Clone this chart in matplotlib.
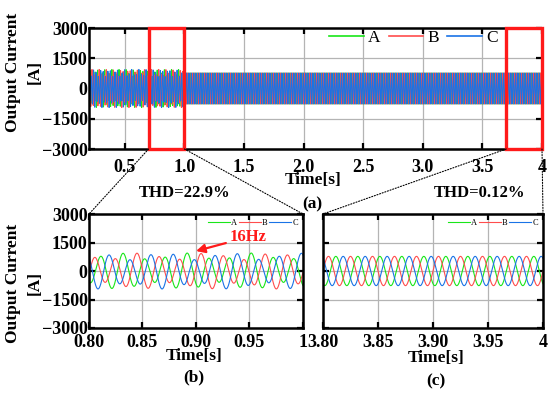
import numpy as np
import matplotlib
matplotlib.use("Agg")
import matplotlib.pyplot as plt
from matplotlib.patches import Rectangle, ConnectionPatch

# ---------------- data ----------------
phase_names = ["A", "B", "C"]
phase_colors = ["#19e619", "#ff4d4d", "#1a73e6"]
phase_shift_deg = [0, 120, -120]          # fundamental sequence offsets
inter_shift_deg = [0, -120, 120]          # 34 Hz component offsets
fund_freq = 50.0                          # Hz
fund_amp = 770.0                          # A
fund_phase_deg = 150.0
inter_freq = 34.0                         # Hz (beats at 16 Hz with the fundamental)
inter_amp = 176.0                         # A  (THD ~22.9 %)
beat_peak_time = 0.89                     # s, phase-A envelope maximum
disturb_end = 1.0                         # s, oscillation removed after this

t_start, t_end = 0.2, 4.0
zoom_b = (0.80, 1.0)
zoom_c = (3.80, 4.0)
rect_a = (0.7, 1.0)
rect_c = (3.7, 4.0)

yticks = [3000, 1500, 0, -1500, -3000]
yticklabels = ["3000", "1500", "0", "\u22121500", "\u22123000"]
xticks_a = [0.5, 1.0, 1.5, 2.0, 2.5, 3.0, 3.5, 4.0]
xticklabels_a = ["0.5", "1.0", "1.5", "2.0", "2.5", "3.0", "3.5", "4"]
xticks_b = [0.80, 0.85, 0.90, 0.95, 1.0]
xticklabels_b = ["0.80", "0.85", "0.90", "0.95", "1"]
xticks_c = [3.80, 3.85, 3.90, 3.95, 4.0]
xticklabels_c = ["3.80", "3.85", "3.90", "3.95", "4"]
thd_b = "THD=22.9%"
thd_c = "THD=0.12%"


def current(t, k):
    th1 = np.deg2rad(fund_phase_deg + phase_shift_deg[k]) + 2 * np.pi * fund_freq * t
    phi2 = np.deg2rad(fund_phase_deg) + 2 * np.pi * (fund_freq - inter_freq) * beat_peak_time
    th2 = phi2 + np.deg2rad(inter_shift_deg[k]) + 2 * np.pi * inter_freq * t
    i = fund_amp * np.cos(th1)
    i = i + np.where(t < disturb_end, inter_amp * np.cos(th2), 0.0)
    return i


plt.rcParams["font.family"] = ["Liberation Serif", "DejaVu Serif"]
plt.rcParams["font.weight"] = "bold"
plt.rcParams["axes.unicode_minus"] = True

W, H = 550, 394
fig = plt.figure(figsize=(W / 100, H / 100), dpi=100)


def px_axes(l, t, r, b):
    return fig.add_axes([l / W, 1 - b / H, (r - l) / W, (b - t) / H])


ax_a = px_axes(89, 28, 542, 149)
ax_b = px_axes(89, 214, 303, 328)
ax_c = px_axes(323, 214, 543, 328)


def style(ax, xticks, xlabels, show_y=True, pad_x=6.5, fs=13):
    ax.set_ylim(-3000, 3000)
    ax.set_xticks(xticks)
    ax.set_xticklabels(xlabels, fontsize=fs, fontweight="bold")
    ax.set_yticks(yticks)
    if show_y:
        ax.set_yticklabels(yticklabels, fontsize=fs, fontweight="bold")
    else:
        ax.set_yticklabels([])
    ax.tick_params(direction="in", length=4, width=1.6, top=True, right=True,
                   color="black")
    ax.tick_params(axis="x", pad=pad_x)
    ax.tick_params(axis="y", pad=1)
    ax.grid(True, color="#b4b4b4", lw=0.9)
    for s in ax.spines.values():
        s.set_linewidth(1.8)
        s.set_color("black")


# ---- top panel (a)
t_a = np.arange(t_start, t_end, 1e-4)
for k in range(3):
    ax_a.plot(t_a, current(t_a, k), color=phase_colors[k], lw=0.75,
              label=phase_names[k])
ax_a.set_xlim(t_start, t_end)
style(ax_a, xticks_a, xticklabels_a, pad_x=7)
leg = ax_a.legend(loc="upper left", bbox_to_anchor=(0.515, 1.04), ncol=3,
                  frameon=False, handlelength=2.0, handletextpad=0.25,
                  columnspacing=0.45, borderaxespad=0,
                  prop={"size": 12.5, "weight": "normal"})
for ln in leg.get_lines():
    ln.set_linewidth(1.2)

for (x0, x1) in (rect_a, rect_c):
    ax_a.add_patch(Rectangle((x0, -3000), x1 - x0, 6000, fill=False,
                             edgecolor="#ff1a1a", lw=2.4, clip_on=False, zorder=5))

# ---- zoom panels
for ax, (z0, z1), xt, xl, showy in (
        (ax_b, zoom_b, xticks_b, xticklabels_b, True),
        (ax_c, zoom_c, xticks_c, xticklabels_c, False)):
    tt = np.arange(z0, z1 + 1e-5, 1e-4)
    for k in range(3):
        ax.plot(tt, current(tt, k), color=phase_colors[k], lw=0.8,
                label=phase_names[k])
    ax.set_xlim(z0, z1)
    style(ax, xt, xl, show_y=showy, pad_x=4)
    ax.legend(loc="upper right", bbox_to_anchor=(1.0, 1.0), ncol=3,
              frameon=False, handlelength=2.6, handletextpad=0.2,
              columnspacing=0.2, borderaxespad=0.15,
              prop={"size": 6, "weight": "normal"})

ax_b.annotate("16Hz", xy=(0.90, 1050), xytext=(0.949, 1790),
              ha="center", va="center", color="#ff1a1a", fontsize=12,
              fontweight="bold",
              arrowprops=dict(arrowstyle="-|>", color="#ff1a1a", lw=1.6,
                              mutation_scale=13, shrinkA=1, shrinkB=0))

# ---- dotted connectors
for xa, ya, axb, xb, yb in (
        (rect_a[0], -3000, ax_b, 0, 1),
        (rect_a[1], -3000, ax_b, 1, 1),
        (rect_c[0], -3000, ax_c, 0, 1),
        (rect_c[1], -3000, ax_c, 1, 1)):
    cp = ConnectionPatch(xyA=(xa, ya), coordsA=ax_a.transData,
                         xyB=(xb, yb), coordsB=axb.transAxes,
                         linestyle=(0, (1, 1.5)), color="black", lw=0.8)
    fig.add_artist(cp)

# ---- texts


def ftext(x, y, s, **kw):
    fig.text(x / W, 1 - y / H, s, ha="center", va="center",
             fontweight="bold", **kw)


ftext(24, 72, "Output Current\n[A]", rotation=90, fontsize=12.5,
      linespacing=1.45, multialignment="center")
ftext(24, 283, "Output Current\n[A]", rotation=90, fontsize=12.5,
      linespacing=1.45, multialignment="center")
ftext(313, 180, "Time[s]", fontsize=12.5)
ftext(312, 204, "(a)", fontsize=12.5)
ftext(185, 193, thd_b, fontsize=12)
ftext(480, 193, thd_c, fontsize=12)
ftext(194, 356, "Time[s]", fontsize=12.5)
ftext(194, 377, "(b)", fontsize=12.5)
ftext(436, 358, "Time[s]", fontsize=12.5)
ftext(436, 381, "(c)", fontsize=12.5)

fig.savefig("out.png", dpi=100)
